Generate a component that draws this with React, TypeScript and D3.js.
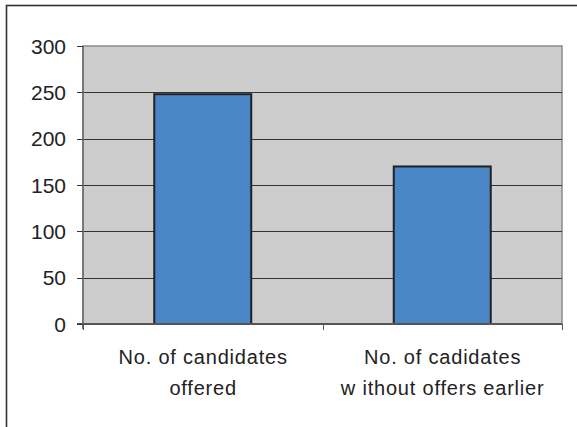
import React from "react";
import * as d3 from "d3";

const categories = ["No. of candidates|offered", "No. of cadidates|w ithout offers earlier"];
const values = [248, 170];
const yTicks = [0, 50, 100, 150, 200, 250, 300];

export default function App() {
  const W = 577, H = 427;
  const plot = { left: 83, right: 562, top: 46, bottom: 324 };
  const x = d3.scaleBand<string>().domain(categories).range([plot.left, plot.right]).paddingInner(0).paddingOuter(0);
  const y = d3.scaleLinear().domain([0, 300]).range([plot.bottom, plot.top]);
  const barW = x.bandwidth() * 0.405;
  const font = "'Liberation Sans', Arial, sans-serif";
  return (
    <svg width={W} height={H} style={{ position: "absolute", left: 0, top: 0 }}>
      <rect x={0} y={0} width={W} height={H} fill="#fff" />
      <rect x={6.5} y={5.5} width={W + 10} height={H + 10} fill="none" stroke="#333" strokeWidth={1.6} />
      <rect x={plot.left} y={plot.top} width={plot.right - plot.left} height={plot.bottom - plot.top} fill="#cdcdcd" stroke="#8a8a8a" strokeWidth={1.5} />
      {yTicks.filter(t => t > 0 && t < 300).map(t => (
        <line key={t} x1={plot.left} x2={plot.right} y1={Math.round(y(t)) + 0.5} y2={Math.round(y(t)) + 0.5} stroke="#333" strokeWidth={1} />
      ))}
      {categories.map((c, i) => {
        const cx = (x(c) as number) + x.bandwidth() / 2;
        return (
          <rect key={c} x={cx - barW / 2} y={y(values[i])} width={barW} height={plot.bottom - y(values[i])}
            fill="#4a86c5" stroke="#222" strokeWidth={2} />
        );
      })}
      <line x1={plot.left} x2={plot.left} y1={plot.top} y2={plot.bottom + 5} stroke="#777" strokeWidth={2} />
      <line x1={plot.left - 6} x2={plot.right} y1={plot.bottom} y2={plot.bottom} stroke="#555" strokeWidth={2} />
      {yTicks.map(t => (
        <g key={t}>
          <line x1={plot.left - 6} x2={plot.left} y1={Math.round(y(t)) + 0.5} y2={Math.round(y(t)) + 0.5} stroke="#333" strokeWidth={1} />
          <text x={66} y={y(t)} dy="0.36em" textAnchor="end" fontFamily={font} fontSize={21} fill="#222">{t}</text>
        </g>
      ))}
      {[plot.left, (plot.left + plot.right) / 2, plot.right].map((tx, i) => (
        <line key={i} x1={Math.round(tx) + 0.5} x2={Math.round(tx) + 0.5} y1={plot.bottom} y2={plot.bottom + 6} stroke="#555" strokeWidth={1} />
      ))}
      {categories.map(c => {
        const cx = (x(c) as number) + x.bandwidth() / 2 + 0.4;
        return c.split("|").map((line, j) => (
          <text key={c + j} x={cx} y={364 + j * 31} textAnchor="middle" fontFamily={font} fontSize={20} letterSpacing={0.8} fill="#222">{line}</text>
        ));
      })}
    </svg>
  );
}
